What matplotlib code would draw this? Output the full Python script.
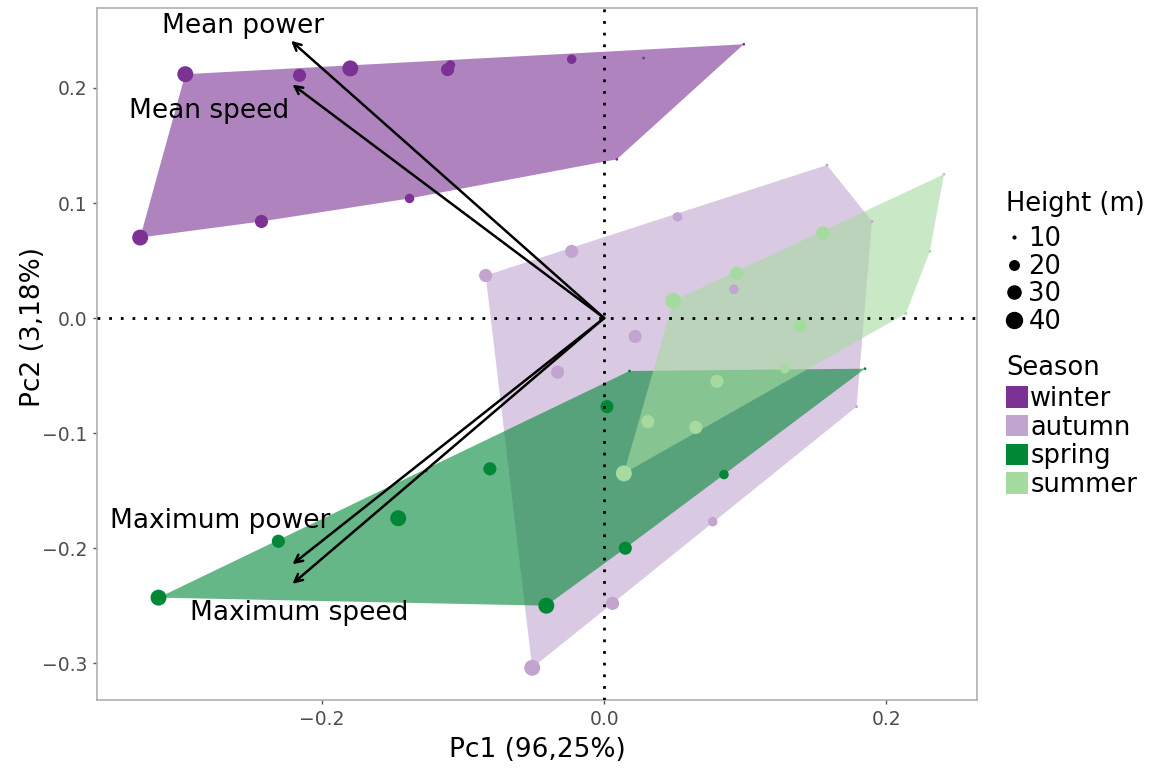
import numpy as np
import matplotlib
matplotlib.use("Agg")
import matplotlib.pyplot as plt
from matplotlib.lines import Line2D
from matplotlib.patches import Patch, Polygon

# ---- data ----
seasons = ["winter", "autumn", "spring", "summer"]
season_colors = ["#7b3294", "#c2a5cf", "#008837", "#a6dba0"]

winter_pc1 = [-0.297, -0.216, -0.180, -0.111, -0.109, -0.023, 0.028, 0.099, 0.009, -0.138, -0.243, -0.329]
winter_pc2 = [0.212, 0.211, 0.217, 0.216, 0.220, 0.225, 0.226, 0.238, 0.138, 0.104, 0.084, 0.070]
winter_height = [40, 30, 40, 30, 20, 20, 10, 10, 10, 20, 30, 40]

autumn_pc1 = [-0.084, -0.023, 0.052, 0.158, 0.190, 0.179, 0.077, 0.006, -0.051, 0.022, -0.033, 0.092]
autumn_pc2 = [0.037, 0.058, 0.088, 0.133, 0.084, -0.077, -0.177, -0.248, -0.304, -0.016, -0.047, 0.025]
autumn_height = [30, 30, 20, 10, 10, 10, 20, 30, 40, 30, 30, 20]

spring_pc1 = [-0.316, -0.231, -0.146, -0.126, -0.081, 0.002, 0.018, 0.185, 0.085, 0.015, -0.041]
spring_pc2 = [-0.243, -0.194, -0.174, -0.133, -0.131, -0.077, -0.046, -0.044, -0.136, -0.200, -0.250]
spring_height = [40, 30, 40, 10, 30, 30, 10, 10, 20, 30, 40]

summer_pc1 = [0.014, 0.031, 0.065, 0.080, 0.128, 0.139, 0.049, 0.094, 0.155, 0.241, 0.231, 0.214]
summer_pc2 = [-0.135, -0.090, -0.095, -0.055, -0.044, -0.007, 0.015, 0.039, 0.074, 0.125, 0.058, 0.004]
summer_height = [40, 30, 30, 30, 20, 30, 40, 30, 30, 10, 10, 10]

variables = ["Mean power", "Mean speed", "Maximum power", "Maximum speed"]
loading_pc1 = [-0.222, -0.221, -0.221, -0.221]
loading_pc2 = [0.241, 0.203, -0.214, -0.231]
label_pc1 = [-0.256, -0.280, -0.272, -0.216]
label_pc2 = [0.254, 0.180, -0.176, -0.256]

height_levels = [10, 20, 30, 40]


def marker_diam(h):
    # area grows linearly with height (diameter in points)
    a = np.interp(h, [10, 40], [2.0 ** 2, 11.5 ** 2])
    return np.sqrt(a)


def convex_hull(xs, ys):
    pts = sorted(set(zip(xs, ys)))

    def cross(o, a, b):
        return (a[0] - o[0]) * (b[1] - o[1]) - (a[1] - o[1]) * (b[0] - o[0])

    lower, upper = [], []
    for p in pts:
        while len(lower) >= 2 and cross(lower[-2], lower[-1], p) <= 0:
            lower.pop()
        lower.append(p)
    for p in reversed(pts):
        while len(upper) >= 2 and cross(upper[-2], upper[-1], p) <= 0:
            upper.pop()
        upper.append(p)
    return lower[:-1] + upper[:-1]


groups = [
    (winter_pc1, winter_pc2, winter_height),
    (autumn_pc1, autumn_pc2, autumn_height),
    (spring_pc1, spring_pc2, spring_height),
    (summer_pc1, summer_pc2, summer_height),
]

W, H = 1155, 769
fig = plt.figure(figsize=(W / 100, H / 100), dpi=100)
ax = fig.add_axes([0.084, 0.0897, 0.762, 0.9])

# hulls first, points on top
for (px, py, ph), col in zip(groups, season_colors):
    hull = convex_hull(px, py)
    ax.add_patch(Polygon(hull, closed=True, facecolor=col, edgecolor="none", alpha=0.6, zorder=2))
for (px, py, ph), col in zip(groups, season_colors):
    ax.scatter(px, py, s=[marker_diam(h) ** 2 for h in ph], color=col, linewidths=0, zorder=3)

ax.axhline(0, color="black", lw=2, ls=(0, (1, 3.2)), zorder=4)
ax.axvline(0, color="black", lw=2, ls=(0, (1, 3.2)), zorder=4)

for v, x, y, lx, ly in zip(variables, loading_pc1, loading_pc2, label_pc1, label_pc2):
    ax.annotate("", xy=(x, y), xytext=(0, 0),
                arrowprops=dict(arrowstyle="->", lw=1.8, color="black",
                                shrinkA=0, shrinkB=0, mutation_scale=14),
                zorder=5)
    ax.text(lx, ly, v, fontsize=19, ha="center", va="center", color="black", zorder=6)

ax.set_xlim(-0.3596, 0.2645)
ax.set_ylim(-0.332, 0.2696)
ax.set_xticks([-0.2, 0.0, 0.2])
ax.set_yticks([-0.3, -0.2, -0.1, 0.0, 0.1, 0.2])
ax.set_xticklabels(["\u22120.2", "0.0", "0.2"])
ax.set_yticklabels(["\u22120.3", "\u22120.2", "\u22120.1", "0.0", "0.1", "0.2"])
ax.tick_params(length=3, width=1, color="#555555", labelcolor="#4d4d4d", labelsize=13.5, pad=4)
for sp in ax.spines.values():
    sp.set_color("#b0b0b0")
    sp.set_linewidth(1.2)

ax.set_xlabel("Pc1 (96,25%)", fontsize=19, labelpad=6)
ax.set_ylabel("Pc2 (3,18%)", fontsize=19)
ax.yaxis.set_label_coords(-0.058, 0.539)

# legends (titles as separate text so the gaps can follow the original)
fs_leg = 18.5
fig.text(1006 / W, 1 - 204 / H, "Height (m)", fontsize=fs_leg, ha="left", va="center")
size_handles = [Line2D([], [], marker="o", ls="", color="black", markersize=marker_diam(h))
                for h in height_levels]
fig.legend(size_handles, [str(h) for h in height_levels],
           loc="upper left", bbox_to_anchor=(1004 / W, 1 - 226 / H),
           frameon=False, fontsize=fs_leg,
           handlelength=0.75, handletextpad=0.2, labelspacing=0.06, borderpad=0,
           borderaxespad=0)

fig.text(1006 / W, 1 - 368 / H, "Season", fontsize=fs_leg, ha="left", va="center")
season_handles = [Patch(facecolor=c, edgecolor="none") for c in season_colors]
fig.legend(season_handles, seasons,
           loc="upper left", bbox_to_anchor=(1006 / W, 1 - 386 / H),
           frameon=False, fontsize=fs_leg,
           handlelength=0.85, handleheight=0.9, handletextpad=0.1,
           labelspacing=0.1, borderpad=0, borderaxespad=0)

fig.savefig("out.png", dpi=100)
